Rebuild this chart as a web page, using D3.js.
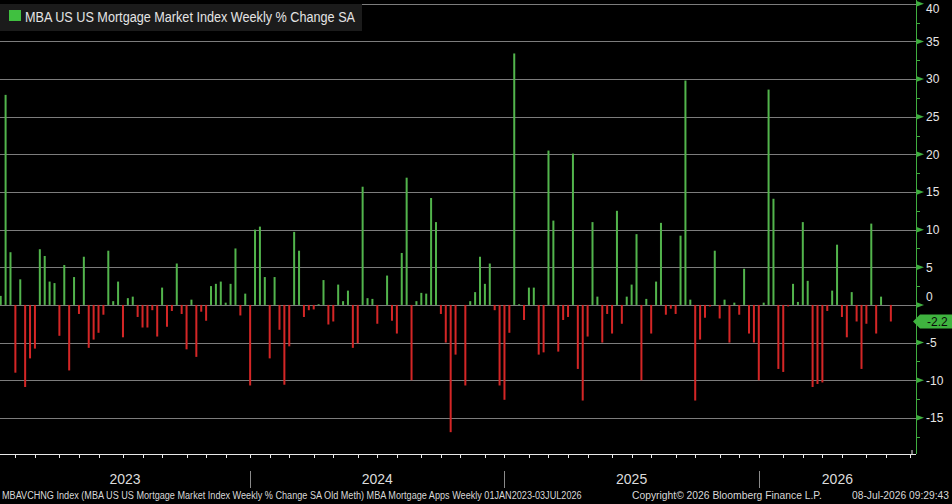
<!DOCTYPE html>
<html>
<head>
<meta charset="utf-8">
<script src="https://cdn.jsdelivr.net/npm/d3@7"></script>
<style>
  html, body { margin: 0; padding: 0; background: #000; }
  svg { display: block; }
  text { font-family: "Liberation Sans", Arial, sans-serif; }
</style>
</head>
<body>
<div class="plots"></div>
<script>
// weekly % change, one value per Friday from 06-Jan-2023 to 03-Jul-2026
var firstWeek = new Date(2023, 0, 6);
var lastWeek = new Date(2026, 6, 3);
var values = [
  1.2, 27.9, 7.0, -9.0, 3.4, -10.9, -7.1, -5.8, 7.4, 6.5,
  3.1, 2.9, -4.1, 5.3, -8.7, 3.7, -1.2, 6.4, -5.7, -4.6,
  -3.7, -1.3, 7.2, 0.5, 3.1, -4.3, 0.9, 1.1, -1.6, -3.0,
  -3.0, -0.7, -4.2, 2.3, -2.9, -0.8, 5.5, -1.2, -5.9, 0.7,
  -6.9, -0.9, -2.1, 2.5, 2.8, 3.1, 0.3, 2.8, 7.5, -1.4,
  1.5, -10.7, 10.0, 10.4, 3.7, -7.1, 3.7, -3.3, -10.6, -5.5,
  9.7, 7.2, -1.6, -0.7, -0.6, 0.1, 3.3, -2.6, -2.2, 2.7,
  0.5, 1.9, -5.7, -5.1, 15.7, 0.9, 0.8, -2.5, 0.0, 3.9,
  -2.1, -3.8, 6.9, 16.9, -10.0, 0.5, 1.6, 1.5, 14.2, 11.0,
  -1.2, -5.0, -16.9, -6.6, 0.0, -10.7, 0.5, 1.7, 6.4, 2.8,
  5.5, -0.7, -10.7, -12.6, -3.7, 33.4, 0.1, -2.0, 2.3, 2.3,
  -6.6, -6.3, 20.5, 11.2, -6.2, -2.0, -1.6, 20.1, -8.5, -12.7,
  -4.2, 11.0, 1.1, -5.0, -1.2, -3.8, 12.5, -2.5, 1.1, 2.7,
  9.4, -10.0, 0.8, -3.8, 3.1, 10.9, -1.3, -0.5, -1.2, 9.2,
  29.8, 0.7, -12.7, -4.6, -1.7, -0.2, 7.2, -1.8, 0.7, -5.0,
  0.3, -1.3, 4.8, -3.8, -5.0, -10.0, 0.3, 28.6, 14.1, -8.5,
  -8.9, -0.2, 2.8, 0.4, 11.0, 3.2, -10.9, -10.5, -10.3, -0.8,
  1.9, 8.0, -1.6, -4.3, 1.7, -2.2, -8.5, -2.5, 10.8, -3.8,
  1.1, 0.0, -2.2
];
var yTicks = [-15, -10, -5, 0, 5, 10, 15, 20, 25, 30, 35, 40];
var years = ["2023", "2024", "2025", "2026"];
var legendLabel = "MBA US US Mortgage Market Index Weekly % Change SA";
var footLeft = "MBAVCHNG Index (MBA US US Mortgage Market Index Weekly % Change SA Old Meth) MBA Mortgage Apps Weekly 01JAN2023-03JUL2026";
var footMid = "Copyright\u00a9 2026 Bloomberg Finance L.P.";
var footRight = "08-Jul-2026 09:29:43";

var weeks = d3.timeFriday.range(firstWeek, d3.timeDay.offset(lastWeek, 1));
var data = weeks.map(function(d, i) { return {date: d, v: values[i]}; });
var lastVal = values[values.length - 1];

var width = 952, height = 504;
var plotW = 916, plotB = 454;

var svg = d3.select(".plots").append("svg")
    .attr("width", width)
    .attr("height", height);

svg.append("rect").attr("width", width).attr("height", height).attr("fill", "#000");

var x = d3.scaleTime()
    .domain([new Date(2023, 0, 5), new Date(2026, 7, 8)])
    .range([0, plotW]);

var y = d3.scaleLinear()
    .domain([-19.8, 40.5])
    .range([plotB, 0]);

// grid
svg.append("g").selectAll("line")
  .data(yTicks)
  .enter().append("line")
    .attr("x1", 0).attr("x2", plotW)
    .attr("y1", function(d) { return Math.round(y(d)) + 0.5; })
    .attr("y2", function(d) { return Math.round(y(d)) + 0.5; })
    .attr("stroke", "#7c7c7c")
    .attr("stroke-width", 1);

// bars
svg.append("g").selectAll("rect")
  .data(data)
  .enter().append("rect")
    .attr("x", function(d) { return x(d.date) - 1; })
    .attr("width", 2)
    .attr("y", function(d) { return d.v >= 0 ? y(d.v) : y(0); })
    .attr("height", function(d) { return Math.abs(y(d.v) - y(0)); })
    .attr("fill", function(d) { return d.v >= 0 ? "#52b44c" : "#d42626"; });

// bottom axis: ticks at last Friday of each month
var monthEnds = d3.timeMonth.range(new Date(2023, 0, 1), new Date(2026, 7, 1)).map(function(m) {
  return d3.timeFriday.floor(d3.timeDay.offset(d3.timeMonth.offset(m, 1), -1));
});
var xAxis = svg.append("g")
    .attr("transform", "translate(0," + plotB + ")");
xAxis.append("line")
    .attr("x1", 0).attr("x2", plotW)
    .attr("y1", 0.5).attr("y2", 0.5)
    .attr("stroke", "#e8e8e8");
xAxis.selectAll(".mt")
  .data(monthEnds)
  .enter().append("line")
    .attr("class", "mt")
    .attr("x1", function(d) { return Math.round(x(d)) + 0.5; })
    .attr("x2", function(d) { return Math.round(x(d)) + 0.5; })
    .attr("y1", 0).attr("y2", 4)
    .attr("stroke", "#e8e8e8");

// year separators and labels
var yearEnds = monthEnds.filter(function(d) { return d.getMonth() === 11; });
svg.selectAll(".ysep")
  .data(yearEnds)
  .enter().append("line")
    .attr("x1", function(d) { return Math.round(x(d)) + 0.5; })
    .attr("x2", function(d) { return Math.round(x(d)) + 0.5; })
    .attr("y1", 471).attr("y2", 488)
    .attr("stroke", "#8a8a8a");
var bounds = [0].concat(yearEnds.map(function(d) { return x(d); })).concat([plotW]);
svg.selectAll(".ylab")
  .data(years)
  .enter().append("text")
    .attr("x", function(d, i) { return (bounds[i] + bounds[i + 1]) / 2; })
    .attr("y", 484)
    .attr("text-anchor", "middle")
    .attr("fill", "#dcdcdc")
    .style("font-size", "14px")
    .text(function(d) { return d; });

// right axis
var rAxis = svg.append("g").attr("transform", "translate(" + plotW + ",0)");
rAxis.append("line")
    .attr("x1", 0.5).attr("x2", 0.5)
    .attr("y1", 0).attr("y2", plotB)
    .attr("stroke", "#3fae3f");
var minor = d3.range(-17.5, 40, 5);
rAxis.selectAll(".mn")
  .data(minor)
  .enter().append("line")
    .attr("x1", 0).attr("x2", 4)
    .attr("y1", function(d) { return Math.round(y(d)) + 0.5; })
    .attr("y2", function(d) { return Math.round(y(d)) + 0.5; })
    .attr("stroke", "#3fae3f");
rAxis.selectAll(".tri")
  .data(yTicks)
  .enter().append("path")
    .attr("d", function(d) {
      var yy = y(d);
      return "M0," + (yy - 3) + "L8," + yy + "L0," + (yy + 3) + "Z";
    })
    .attr("fill", "#3fae3f");

var ty = y(lastVal);
rAxis.selectAll(".lab")
  .data(yTicks)
  .enter().append("text")
    .attr("x", 10)
    .attr("y", function(d) {
      var yy = Math.max(y(d), 9);
      // nudge a label away from the last-value tag
      if (Math.abs(yy - ty) < 17) yy = yy < ty ? ty - 25 : ty + 25;
      return yy;
    })
    .attr("dy", "0.36em")
    .attr("fill", "#e6e6e6")
    .style("font-size", "12px")
    .text(function(d) { return d; });
// bottom corner tick
rAxis.append("line")
    .attr("x1", -4).attr("x2", -4)
    .attr("y1", plotB - 4).attr("y2", plotB)
    .attr("stroke", "#e8e8e8");

// last value tag
rAxis.append("path")
    .attr("d", "M-3," + ty + "L4," + (ty - 7) + "L36," + (ty - 7) + "L36," + (ty + 7) + "L4," + (ty + 7) + "Z")
    .attr("fill", "#3fb33f");
rAxis.append("text")
    .attr("x", 11)
    .attr("y", ty)
    .attr("dy", "0.36em")
    .attr("fill", "#0a0a0a")
    .style("font-size", "12px")
    .text(lastVal.toFixed(1));

// legend
var leg = svg.append("g");
leg.append("rect")
    .attr("x", 0).attr("y", 4).attr("width", 362).attr("height", 27)
    .attr("fill", "#1b1b1b");
leg.append("rect")
    .attr("x", 9).attr("y", 10).attr("width", 12).attr("height", 11)
    .attr("fill", "#40c040");
leg.append("text")
    .attr("x", 25).attr("y", 22)
    .attr("fill", "#e4e4e4")
    .style("font-size", "14px")
    .attr("textLength", 330)
    .attr("lengthAdjust", "spacingAndGlyphs")
    .text(legendLabel);

// footer: narrow the text horizontally to the reference widths
var foot = svg.append("g").attr("fill", "#d8d8d8").style("font-size", "11px");
function footText(str, x0, w, anchorEnd) {
  var t = foot.append("text").text(str);
  var len = t.node().getComputedTextLength();
  var sx = w / len;
  var left = anchorEnd ? x0 - w : x0;
  t.attr("transform", "translate(" + left + ",499) scale(" + sx + ",1)");
}
footText(footLeft, 2, 580, false);
footText(footMid, 632, 190, false);
footText(footRight, 949, 97, true);
</script>
</body>
</html>
